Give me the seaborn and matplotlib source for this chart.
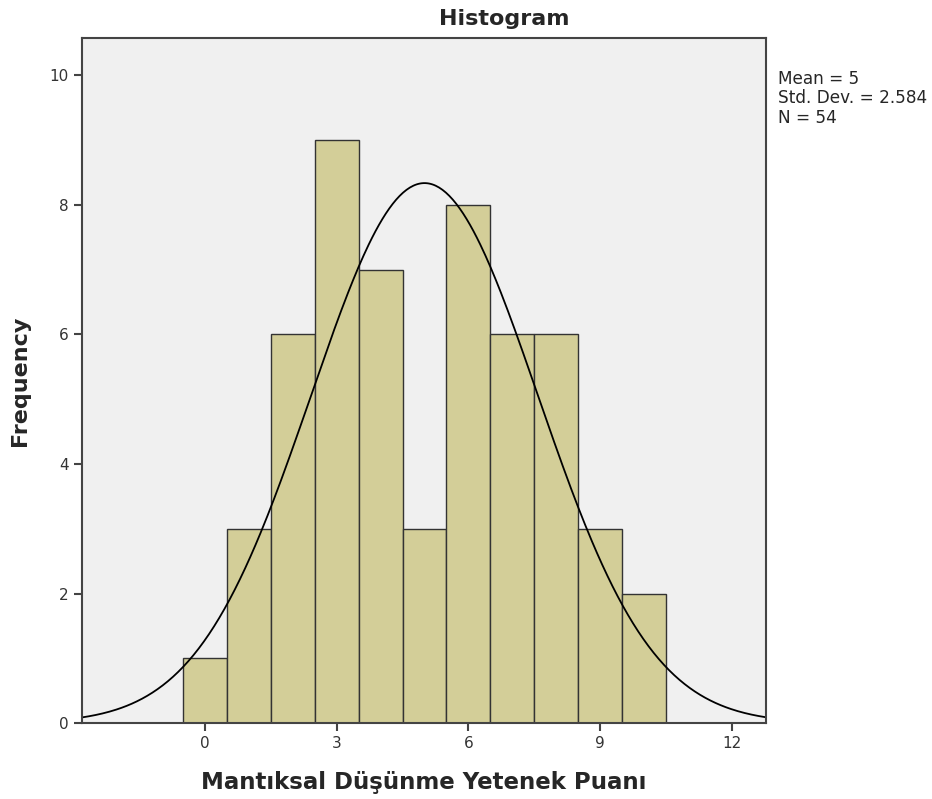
import matplotlib
matplotlib.use("Agg")
import matplotlib.pyplot as plt
import numpy as np
import seaborn as sns

# score values and how many students got each
score_values = [0, 1, 2, 3, 4, 5, 6, 7, 8, 9, 10]
score_counts = [1, 3, 6, 9, 7, 3, 8, 6, 6, 3, 2]
x_ticks = [0, 3, 6, 9, 12]
y_ticks = [0, 2, 4, 6, 8, 10]

scores = np.repeat(score_values, score_counts)
mean = scores.mean()
sd = scores.std(ddof=1)
n = len(scores)

sns.set_style("white")
plt.rcParams["font.family"] = ["DejaVu Sans"]

fig = plt.figure(figsize=(9.32, 7.99), dpi=100)
ax = fig.add_axes([0.088, 0.095, 0.734, 0.857])
ax.set_facecolor("#f0f0f0")

edges = np.arange(-0.5, 11.0, 1.0)
sns.histplot(x=scores, bins=edges, color="#d3ce98", edgecolor="#333333",
             linewidth=1.0, alpha=1, ax=ax)

# normal curve scaled to counts (bin width 1)
xs = np.linspace(-2.8, 12.8, 400)
ys = n * 1.0 * np.exp(-0.5 * ((xs - mean) / sd) ** 2) / (sd * np.sqrt(2 * np.pi))
sns.lineplot(x=xs, y=ys, color="black", linewidth=1.3, ax=ax)

ax.set_xlim(-2.8, 12.78)
ax.set_ylim(0, 10.57)
ax.set_xticks(x_ticks)
ax.set_yticks(y_ticks)
ax.tick_params(direction="out", length=6, width=1.5, color="#444444",
               labelsize=11, labelcolor="#333333", bottom=True, left=True)
for s in ax.spines.values():
    s.set_color("#444444")
    s.set_linewidth(1.5)

ax.set_xlabel("Mantıksal Düşünme Yetenek Puanı", fontsize=16.5, fontweight="bold",
              labelpad=14)
ax.set_ylabel("Frequency", fontsize=16, fontweight="bold", labelpad=14)
fig.text(0.541, 0.976, "Histogram", ha="center", va="center", fontsize=16,
         fontweight="bold")
fig.text(0.835, 0.912, f"Mean = {mean:.0f}\nStd. Dev. = {sd:.3f}\nN = {n}",
         ha="left", va="top", fontsize=12.2, linespacing=1.08)

fig.savefig("out.png", dpi=100)
